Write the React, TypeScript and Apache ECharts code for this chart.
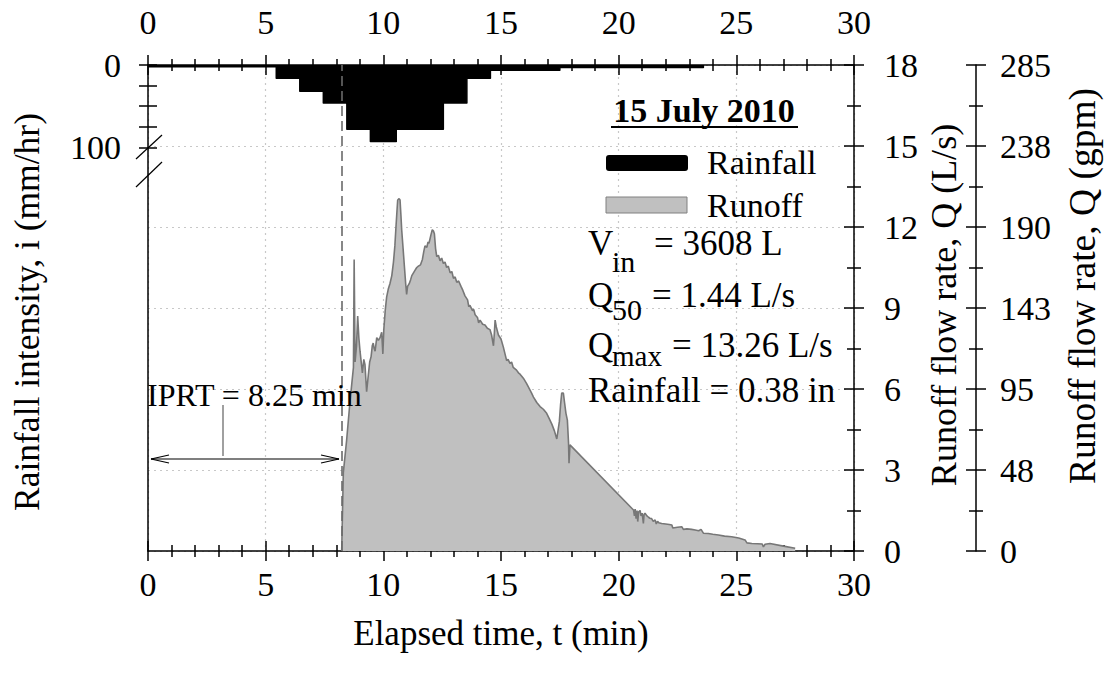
import React, { useEffect, useRef } from "react";
import * as echarts from "echarts";

const FONT = '"Liberation Serif", "Times New Roman", serif';

// Time axis ticks (min)
const timeTicks = [0, 5, 10, 15, 20, 25, 30];
// Rainfall intensity, step starts (min) and values (mm/hr)
const rainT = [0, 5.45, 6.45, 7.45, 8.45, 9.45, 10.55, 12.55, 13.55, 14.55, 17.5, 23.6];
const rainI = [2, 16, 32, 46, 78, 93, 78, 46, 16, 6.5, 3, 0];
const rainTickValues = [0, 25, 50, 75, 100];
const rainLabelValues = [0, 100];

// Runoff hydrograph (min, L/s)
const runoffT = [
  8.23, 8.3, 8.44, 8.58, 8.66, 8.73, 8.76, 8.8, 8.86, 8.91, 8.96, 9.01, 9.11, 9.17, 9.22, 9.29, 9.36, 9.42, 9.48, 9.53,
  9.57, 9.61, 9.65, 9.72, 9.79, 9.86, 9.93, 9.98, 10.02, 10.08, 10.14, 10.21, 10.28, 10.36, 10.43, 10.49, 10.53, 10.58,
  10.61, 10.67, 10.71, 10.75, 10.78, 10.84, 10.89, 10.95, 10.99, 11.03, 11.1, 11.16, 11.21, 11.28, 11.35, 11.42, 11.49, 11.58,
  11.66, 11.72, 11.77, 11.85, 11.9, 11.94, 12.02, 12.08, 12.13, 12.17, 12.22, 12.27, 12.34, 12.41, 12.48, 12.55, 12.62, 12.69,
  12.76, 12.84, 12.91, 12.98, 13.05, 13.12, 13.2, 13.3, 13.38, 13.47, 13.58, 13.63, 13.68, 13.79, 13.84, 13.9, 14.0, 14.05,
  14.11, 14.22, 14.32, 14.42, 14.53, 14.6, 14.68, 14.72, 14.75, 14.8, 14.89, 15.0, 15.1, 15.17, 15.24, 15.3, 15.38, 15.45,
  15.52, 15.66, 15.74, 15.81, 15.95, 16.09, 16.24, 16.3, 16.38, 16.52, 16.66, 16.8, 16.94, 17.05, 17.16, 17.27, 17.37,
  17.43, 17.48, 17.53, 17.58, 17.65, 17.7, 17.76, 17.82, 17.87, 17.89, 17.93, 20.63, 20.67, 20.7, 20.74, 20.78, 20.81,
  20.85, 20.91, 20.95, 21.0, 21.05, 21.08, 21.12, 21.2, 21.27, 21.33, 21.4, 21.47, 21.55, 21.6, 21.65, 21.7, 21.83, 22.0,
  22.15, 22.26, 22.3, 22.5, 22.68, 22.75, 22.9, 23.1, 23.25, 23.4, 23.5, 23.6, 23.81, 24.0, 24.24, 24.5, 24.8, 25.1,
  25.37, 25.45, 25.66, 25.9, 26.1, 26.15, 26.22, 26.43, 27.0, 27.5,
];
const runoffQ = [
  0, 2.9, 4.1, 5.5, 6.2, 6.8, 10.8, 7.0, 7.6, 8.7, 7.9, 7.4, 6.6, 7.1, 6.9, 5.9, 6.5, 7.0, 7.2, 7.6,
  7.7, 7.5, 7.4, 7.9, 7.8, 7.9, 8.1, 7.3, 8.2, 8.9, 9.4, 9.7, 9.9, 10.2, 10.7, 11.3, 11.9, 12.6,
  13.0, 13.05, 13.0, 12.4, 11.9, 11.2, 10.6, 9.9, 9.5, 9.8, 9.9, 10.05, 10.2, 10.3, 10.4, 10.5, 10.55, 10.6,
  10.8, 11.1, 11.3, 11.25, 11.45, 11.4, 11.7, 11.9, 11.85, 11.75, 11.2, 10.9, 10.95, 10.75, 10.85, 10.65, 10.7, 10.5,
  10.55, 10.3, 10.35, 10.1, 10.15, 9.95, 10.0, 9.8, 9.65, 9.45, 9.3, 9.05, 9.1, 8.9, 8.95, 8.75, 8.65, 8.45,
  8.55, 8.4, 8.37, 8.25, 8.2, 8.0, 7.6, 8.1, 8.55, 8.3, 8.0, 7.85, 7.55, 7.3, 7.05, 7.1, 6.95, 7.0,
  6.8, 6.7, 6.6, 6.55, 6.4, 6.2, 5.95, 5.85, 5.7, 5.5, 5.35, 5.25, 5.1, 4.9, 4.7, 4.45, 4.15,
  4.5, 4.8, 5.4, 5.85, 5.85, 5.5, 5.1, 4.85, 4.0, 3.25, 3.93, 1.52, 1.3, 1.55, 1.2, 1.5, 1.09,
  1.45, 1.5, 1.3, 1.4, 1.02, 1.35, 1.4, 1.3, 1.25, 1.21, 1.2, 1.1, 1.15, 1.0, 1.1, 1.05, 1.02, 1.0,
  0.98, 0.96, 0.85, 0.88, 0.9, 0.8, 0.82, 0.8, 0.78, 0.75, 0.8, 0.66, 0.65, 0.62, 0.59, 0.55, 0.53, 0.48,
  0.41, 0.3, 0.28, 0.27, 0.26, 0.15, 0.25, 0.28, 0.18, 0.1,
];
const IPRT = 8.25;
const GPM_PER_LPS = 15.85;

export default function App() {
  const ref = useRef<HTMLDivElement>(null);
  useEffect(() => {
    if (!ref.current) return;
    const chart = echarts.init(ref.current, undefined, { renderer: "svg" });
    const black = "#000";
    const axisLine = { show: true, onZero: false, lineStyle: { color: black, width: 1.5 } };
    const labelStyle = { color: black, fontSize: 34, fontFamily: FONT };
    const dotted = { show: true, lineStyle: { color: "#c8c8c8", type: [2, 4] as any, width: 1.2 } };

    const xBase = (pos: string, inside: boolean, label: boolean, margin: number) => ({
      type: "value",
      position: pos,
      min: timeTicks[0],
      max: timeTicks[timeTicks.length - 1],
      interval: 5,
      axisLine: inside ? { show: false, onZero: false } : axisLine,
      axisTick: { show: true, inside, length: 10, lineStyle: { color: black, width: 1.5 } },
      minorTick: { show: true, splitNumber: 5, length: 6, lineStyle: { color: black, width: 1.5 } },
      axisLabel: label ? { ...labelStyle, margin } : { show: false },
      splitLine: pos === "bottom" && !inside ? dotted : { show: false },
    });

    const qBase = (inside: boolean, label: boolean, offset: number, margin: number, gpm: boolean) => ({
      type: "value",
      position: "right",
      offset,
      min: 0,
      max: 18,
      interval: 3,
      axisLine: inside ? { show: false, onZero: false } : axisLine,
      axisTick: { show: true, inside, length: 10, lineStyle: { color: black, width: 1.5 } },
      minorTick: { show: true, splitNumber: 2, length: 7, lineStyle: { color: black, width: 1.5 } },
      axisLabel: label
        ? {
            ...labelStyle,
            margin,
            formatter: gpm ? (v: number) => String(Math.round(v * GPM_PER_LPS)) : (v: number) => String(v),
          }
        : { show: false },
      splitLine: !gpm && !inside ? dotted : { show: false },
    });

    const rainBase = (inside: boolean, label: boolean) => ({
      type: "value",
      position: "left",
      inverse: true,
      min: 0,
      max: 590,
      axisLine: inside ? { show: false, onZero: false } : axisLine,
      axisTick: {
        show: true,
        inside,
        length: 9,
        customValues: rainTickValues,
        lineStyle: { color: black, width: 1.5 },
      },
      axisLabel: label ? { ...labelStyle, margin: 27, customValues: rainLabelValues } : { show: false },
      splitLine: { show: false },
    });

    const text = (x: number, y: number, t: string, size = 35, extra: any = {}) => ({
      type: "text",
      x,
      y,
      z: 20,
      silent: true,
      rotation: extra.rotation || 0,
      style: {
        text: t,
        fontSize: size,
        fontFamily: FONT,
        fill: black,
        align: extra.align || "left",
        verticalAlign: "middle",
        fontWeight: extra.bold ? "bold" : "normal",
      },
    });

    const line = (x1: number, y1: number, x2: number, y2: number, color = black, width = 1.2) => ({
      type: "line",
      z: 20,
      silent: true,
      shape: { x1, y1, x2, y2 },
      style: { stroke: color, lineWidth: width },
    });

    chart.setOption({
      animation: false,
      grid: { left: 148, right: 250, top: 65, bottom: 126, outerBoundsMode: "none" } as any,
      xAxis: [
        xBase("bottom", false, true, 16),
        xBase("bottom", true, false, 0),
        xBase("top", false, true, 26),
        xBase("top", true, false, 0),
      ],
      yAxis: [
        qBase(false, true, 0, 30, false),
        qBase(true, false, 0, 0, false),
        qBase(false, true, 122, 24, true),
        qBase(true, false, 122, 0, true),
        rainBase(false, true),
        rainBase(true, false),
      ],
      series: [
        {
          name: "Runoff",
          type: "line",
          xAxisIndex: 0,
          yAxisIndex: 0,
          data: runoffT.map((t, i) => [t, runoffQ[i]]),
          symbol: "none",
          lineStyle: { color: "#777777", width: 1.6 },
          areaStyle: { color: "#c0c0c0", opacity: 1 },
          z: 3,
          markLine: {
            silent: true,
            symbol: "none",
            label: { show: false },
            lineStyle: { color: "#6a6a6a", type: [10, 5], width: 1.6 },
            data: [{ xAxis: IPRT }],
          },
        },
        {
          name: "Rainfall",
          type: "line",
          xAxisIndex: 0,
          yAxisIndex: 4,
          step: "end",
          data: rainT.map((t, i) => [t, rainI[i]]),
          symbol: "none",
          lineStyle: { color: black, width: 1.5, join: "round" },
          areaStyle: { color: black, opacity: 1 },
          z: 4,
        },
      ],
      graphic: [
        // axis titles
        text(27, 312, "Rainfall intensity, i (mm/hr)", 35.5, { rotation: Math.PI / 2, align: "center" }),
        text(944, 305, "Runoff flow rate, Q (L/s)", 36, { rotation: Math.PI / 2, align: "center" }),
        text(1082, 286, "Runoff flow rate, Q (gpm)", 37.5, { rotation: Math.PI / 2, align: "center" }),
        text(501, 633, "Elapsed time, t (min)", 35, { align: "center" }),
        // date + legend
        text(704, 110, "15 July 2010", 34, { align: "center", bold: true }),
        { type: "rect", z: 20, silent: true, shape: { x: 611, y: 126, width: 187, height: 2 }, style: { fill: black } },
        { type: "rect", z: 20, silent: true, shape: { x: 606, y: 155, width: 82, height: 16, r: 3 }, style: { fill: black } },
        text(707, 162, "Rainfall", 34),
        {
          type: "rect",
          z: 20,
          silent: true,
          shape: { x: 606, y: 197, width: 81, height: 16 },
          style: { fill: "#c0c0c0", stroke: "#808080", lineWidth: 1 },
        },
        text(707, 205, "Runoff", 34),
        // statistics
        text(588, 243, "V"),
        text(612, 261, "in", 30),
        text(654, 243, "= 3608 L"),
        text(588, 295, "Q"),
        text(612, 309, "50", 30),
        text(652, 295, "= 1.44 L/s"),
        text(588, 345, "Q"),
        text(612, 356, "max", 29),
        text(672, 345, "= 13.26 L/s"),
        text(588, 390, "Rainfall = 0.38 in"),
        // IPRT annotation
        text(147, 395, "IPRT = 8.25 min", 32),
        line(151, 459, 339, 459),
        line(151, 459, 169, 455),
        line(151, 459, 169, 463),
        line(339, 459, 321, 455),
        line(339, 459, 321, 463),
        line(223, 405, 223, 456, "#808080", 1.5),
        // axis break marks
        line(136, 159, 162, 135, black, 1.2),
        line(136, 187, 162, 162, black, 1.2),
      ],
    });
    return () => chart.dispose();
  }, []);
  return (
    <div
      ref={ref}
      style={{ position: "absolute", left: 0, top: 0, width: 1104, height: 677, background: "#fff" }}
    />
  );
}
